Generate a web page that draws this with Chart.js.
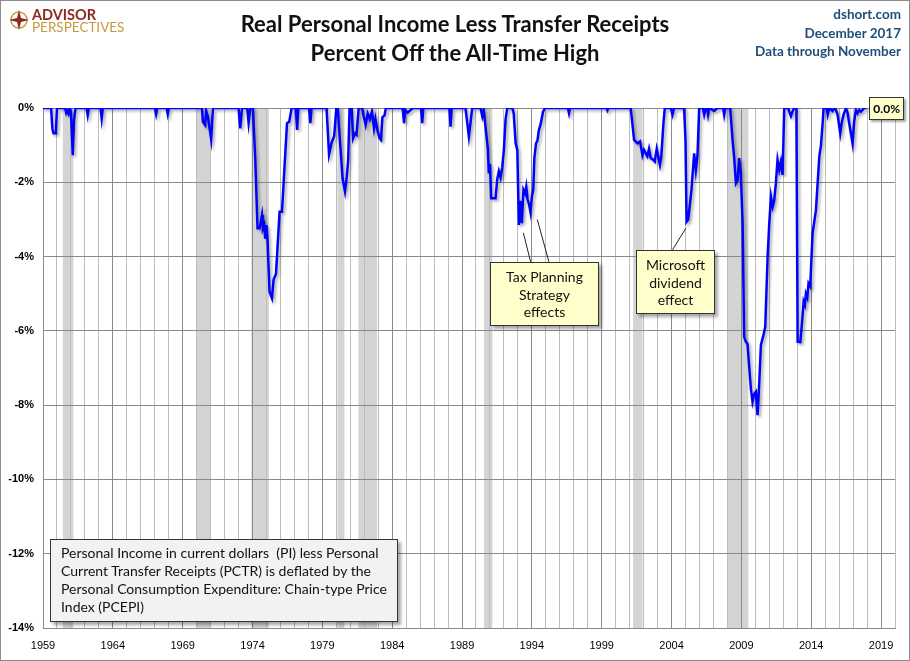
<!DOCTYPE html>
<html>
<head>
<meta charset="utf-8">
<script src="https://cdn.jsdelivr.net/npm/chart.js@4.4.0/dist/chart.umd.min.js"></script>
<style>
  body { margin: 0; background: #fff; }
  #wrap { position: relative; width: 910px; height: 661px; overflow: hidden; background: #fff; }
  #frame { position: absolute; left: 0; top: 0; width: 908px; height: 659px; border: 1px solid #8c8c8c; pointer-events: none; }
  canvas { position: absolute; left: 0; top: 0; }
  .title { position: absolute; left: 0; width: 910px; top: 9px; text-align: center; font: bold 22px Lato, sans-serif; line-height: 29px; color: #111; }
  .src { position: absolute; right: 9px; top: 5px; text-align: right; font: bold 13.5px Lato, sans-serif; line-height: 18.5px; color: #1f4e79; }
  .logo { position: absolute; left: 9px; top: 8px; }
  .logo .t1 { position: absolute; left: 23px; top: 0px; font: bold 14.5px Lato, sans-serif; color: #8b2a20; line-height: 14px; }
  .logo .t2 { position: absolute; left: 23px; top: 12px; font: 13.5px Lato, sans-serif; color: #c49a3c; line-height: 14px; white-space: nowrap; }
  .box { position: absolute; background: #ffffcc; border: 1px solid #333; box-shadow: 3px 3px 3px rgba(0,0,0,0.35); font: 14px Lato, sans-serif; color: #111; text-align: center; line-height: 17.5px; box-sizing: border-box; }
  .note { position: absolute; left: 50px; top: 539px; width: 348px; height: 83px; background: #f2f2f2; border: 1px solid #333; box-shadow: 3px 3px 3px rgba(0,0,0,0.35); box-sizing: border-box; font: 14px Lato, sans-serif; color: #111; line-height: 18px; padding: 4px 0 0 10px; white-space: nowrap; }
  .endlbl { position: absolute; background: #ffffcc; border: 1px solid #333; box-shadow: 2px 2px 2px rgba(0,0,0,0.35); font: bold 12px Lato, sans-serif; padding: 3px 3px; line-height: 15px; }
</style>
</head>
<body>
<div id="wrap">
  <canvas id="chart" width="910" height="661"></canvas>
  <div class="logo">
    <svg width="20" height="22" viewBox="0 0 20 22" style="position:absolute;left:0;top:1px">
      <circle cx="10" cy="11" r="8" fill="none" stroke="#c49a3c" stroke-width="1.5"/>
      <polygon points="10,1 12,9 20,11 12,13 10,21 8,13 0,11 8,9" fill="#8b2a20"/>
    </svg>
    <div class="t1">ADVISOR</div>
    <div class="t2">PERSPECTIVES</div>
  </div>
  <div class="title">Real Personal Income Less Transfer Receipts<br>Percent Off the All-Time High</div>
  <div class="src">dshort.com<br>December 2017<br>Data through November</div>
  <div class="box" style="left:490px;top:262px;width:109px;height:64px;padding-top:5px">Tax Planning<br>Strategy<br>effects</div>
  <div class="box" style="left:636px;top:250px;width:79px;height:64px;padding-top:5px">Microsoft<br>dividend<br>effect</div>
  <div class="note">Personal Income in current dollars&nbsp; (PI) less Personal<br>Current Transfer Receipts (PCTR) is deflated by the<br>Personal Consumption Expenditure: Chain-type Price<br>Index (PCEPI)</div>
  <div class="endlbl" id="endlbl"></div>
  <div id="frame"></div>
</div>
<script>
// monthly series (decimal year, % off all-time high)
var dates = [
  1959.00, 1959.58, 1959.67, 1959.75, 1959.92, 1960.00, 1960.58, 1960.67, 1960.75, 1960.83,
  1960.92, 1961.00, 1961.13, 1961.22, 1961.33, 1962.12, 1962.20, 1962.28, 1963.12, 1963.20,
  1963.28, 1967.02, 1967.10, 1967.18, 1967.85, 1967.93, 1968.01, 1970.38, 1970.45, 1970.61,
  1970.68, 1970.81, 1971.04, 1971.16, 1971.20, 1973.00, 1973.12, 1973.25, 1973.62, 1973.72,
  1973.84, 1974.03, 1974.20, 1974.36, 1974.51, 1974.68, 1974.75, 1974.84, 1974.91, 1974.99,
  1975.08, 1975.22, 1975.39, 1975.51, 1975.68, 1975.94, 1976.11, 1976.47, 1976.63, 1976.80,
  1977.10, 1977.19, 1977.28, 1978.05, 1978.14, 1978.23, 1979.30, 1979.48, 1979.65, 1979.85,
  1980.00, 1980.10, 1980.45, 1980.62, 1980.75, 1980.85, 1980.95, 1981.10, 1981.20, 1981.35,
  1981.45, 1981.60, 1981.85, 1981.95, 1982.10, 1982.25, 1982.40, 1982.55, 1982.70, 1982.80,
  1982.95, 1983.10, 1983.20, 1983.30, 1983.45, 1983.55, 1984.75, 1984.85, 1984.93, 1985.10,
  1985.30, 1985.50, 1986.07, 1986.15, 1986.23, 1988.10, 1988.18, 1988.26, 1989.25, 1989.49,
  1989.73, 1990.33, 1990.45, 1990.55, 1990.68, 1990.85, 1990.92, 1991.00, 1991.09, 1991.40,
  1991.52, 1991.64, 1991.76, 1991.88, 1992.00, 1992.12, 1992.24, 1992.60, 1992.70, 1992.84,
  1992.96, 1993.07, 1993.17, 1993.28, 1993.40, 1993.52, 1993.60, 1993.69, 1993.80, 1993.90,
  1994.00, 1994.10, 1994.18, 1994.30, 1994.40, 1994.50, 1994.65, 1994.80, 1994.95, 1996.58,
  1996.66, 1996.74, 1999.35, 1999.41, 1999.47, 2001.08, 2001.32, 2001.56, 2001.75, 2001.92,
  2002.03, 2002.27, 2002.39, 2002.51, 2002.70, 2002.80, 2002.94, 2003.03, 2003.17, 2003.27,
  2003.42, 2003.52, 2003.95, 2004.07, 2004.18, 2004.90, 2005.00, 2005.08, 2005.19, 2005.33,
  2005.43, 2005.62, 2005.74, 2005.86, 2005.98, 2006.25, 2006.34, 2006.45, 2006.55, 2006.62,
  2006.70, 2007.05, 2007.29, 2007.70, 2007.77, 2007.85, 2008.20, 2008.37, 2008.48, 2008.61,
  2008.73, 2008.84, 2008.96, 2009.09, 2009.20, 2009.32, 2009.44, 2009.56, 2009.68, 2009.80,
  2009.92, 2010.04, 2010.16, 2010.28, 2010.40, 2010.56, 2010.71, 2010.88, 2011.00, 2011.12,
  2011.24, 2011.35, 2011.47, 2011.59, 2011.71, 2011.83, 2011.95, 2012.07, 2012.35, 2012.43,
  2012.55, 2012.66, 2012.78, 2012.94, 2013.03, 2013.22, 2013.34, 2013.46, 2013.55, 2013.62,
  2013.72, 2013.81, 2013.93, 2014.10, 2014.34, 2014.58, 2014.70, 2014.82, 2014.89, 2015.10,
  2015.18, 2015.29, 2015.53, 2015.65, 2015.77, 2015.89, 2016.08, 2016.18, 2016.32, 2016.49,
  2016.61, 2016.72, 2016.84, 2016.96, 2017.08, 2017.20, 2017.32, 2017.44, 2017.56, 2017.68,
  2017.80, 2017.95
];
var pctOff = [
  0, 0, -0.55, -0.68, -0.68, 0, 0, -0.14, -0.08, -0.15,
  0, -0.10, -1.27, -0.32, 0, 0, -0.19, 0, 0, -0.28,
  0, 0, -0.16, 0, 0, -0.16, 0, 0, -0.37, -0.46,
  -0.07, -0.25, -0.84, -0.05, 0, 0, -0.55, 0, 0, -0.40,
  0, 0, -1.40, -3.24, -3.24, -2.88, -3.24, -3.15, -3.52, -3.15,
  -3.60, -4.95, -5.12, -4.62, -4.47, -2.79, -2.79, -0.41, -0.37, 0,
  0, -0.59, 0, 0, -0.41, 0, 0, -1.25, -0.95, -0.75,
  0, 0, -1.90, -2.25, -1.85, -1.40, 0, 0, -0.82, -0.68,
  -0.72, 0, 0, -0.20, -0.45, -0.15, -0.30, -0.10, -0.55, -0.30,
  -0.60, -0.82, -0.86, -0.25, -0.20, 0, 0, -0.41, -0.05, -0.12,
  -0.06, 0, 0, -0.41, 0, 0, -0.50, 0, 0, -0.77,
  0, 0, -0.22, -0.05, -0.50, -1.10, -1.76, -1.50, -2.43, -2.43,
  -1.92, -1.70, -1.87, -1.60, -1.12, -0.30, 0, 0, -0.14, -0.95,
  -1.13, -3.15, -2.50, -3.10, -2.20, -2.30, -2.12, -2.45, -2.60, -2.80,
  -2.40, -2.20, -1.35, -0.95, -0.88, -0.60, -0.40, -0.10, 0, 0,
  -0.14, 0, 0, -0.06, 0, 0, -0.86, -0.95, -0.90, -1.27,
  -1.13, -1.30, -1.10, -1.35, -1.40, -1.44, -1.10, -1.27, -1.53, -1.30,
  -0.41, 0, 0, -0.18, 0, 0, -0.86, -3.06, -3.00, -2.55,
  -2.20, -1.22, -1.67, -1.27, 0, 0, -0.18, 0, 0, -0.18,
  0, -0.08, 0, 0, -0.18, 0, 0, -0.86, -1.31, -2.03,
  -1.95, -1.35, -1.75, -3.10, -6.16, -6.29, -6.35, -6.96, -7.55, -7.91,
  -7.70, -7.64, -8.27, -7.41, -6.38, -6.15, -5.89, -4.00, -3.10, -2.39,
  -2.66, -2.50, -2.03, -1.40, -1.67, -1.45, -1.80, 0, 0, -0.10,
  -0.22, -0.10, 0, 0, -6.29, -6.30, -5.80, -5.21, -5.30, -5.00,
  -5.10, -4.72, -4.80, -3.37, -2.75, -1.31, -1.00, -0.41, 0, 0,
  -0.18, 0, -0.08, 0, -0.05, -0.18, -0.68, -0.41, -0.18, 0,
  -0.14, -0.41, -0.68, -0.95, -0.36, -0.05, -0.14, -0.05, -0.10, -0.05,
  0, 0
];
// recessions (start, end as decimal years)
var recStart = [1960.42, 1970.00, 1973.92, 1980.08, 1981.58, 1990.58, 2001.25, 2008.00];
var recEnd   = [1961.17, 1971.00, 1975.17, 1980.58, 1982.92, 1991.17, 2001.92, 2009.50];
var yTicks = [0, -2, -4, -6, -8, -10, -12, -14];

// callout leader lines in data units [x1, y1, x2, y2]
var leaders = [
  [1993.39, -3.36, 1993.91, -4.14],
  [1994.39, -3.00, 1995.22, -4.14],
  [2005.02, -3.24, 2004.07, -3.82]
];

var points = dates.map(function (d, i) { return { x: d, y: pctOff[i] }; });

var bandsPlugin = {
  id: 'bands',
  beforeDraw: function (chart) {
    var c = chart.ctx, a = chart.chartArea, xs = chart.scales.x;
    c.save();
    c.fillStyle = '#d4d4d4';
    for (var i = 0; i < recStart.length; i++) {
      var x1 = xs.getPixelForValue(recStart[i]), x2 = xs.getPixelForValue(recEnd[i]);
      c.fillRect(x1, a.top, x2 - x1, a.bottom - a.top);
    }
    c.restore();
  },
  beforeDatasetsDraw: function (chart) {
    var c = chart.ctx;
    c.save();
    c.shadowColor = 'rgba(0,0,0,0.35)';
    c.shadowOffsetX = 2;
    c.shadowOffsetY = 2;
    c.shadowBlur = 3;
  },
  afterDatasetsDraw: function (chart) {
    chart.ctx.restore();
  },
  afterDraw: function (chart) {
    var c = chart.ctx, xs = chart.scales.x, ys = chart.scales.y;
    c.save();
    c.strokeStyle = '#222';
    c.lineWidth = 1;
    leaders.forEach(function (l) {
      c.beginPath();
      c.moveTo(xs.getPixelForValue(l[0]), ys.getPixelForValue(l[1]));
      c.lineTo(xs.getPixelForValue(l[2]), ys.getPixelForValue(l[3]));
      c.stroke();
    });
    c.restore();
  }
};

var chart = new Chart(document.getElementById('chart'), {
  type: 'line',
  data: {
    datasets: [{
      data: points,
      borderColor: '#0000ff',
      borderWidth: 2.5,
      pointRadius: 0,
      tension: 0,
      fill: false
    }]
  },
  options: {
    responsive: false,
    animation: false,
    layout: { padding: { left: 0, right: 15, top: 108, bottom: 0 } },
    plugins: { legend: { display: false }, tooltip: { enabled: false } },
    scales: {
      x: {
        type: 'linear',
        min: 1959,
        max: 2020,
        afterFit: function (s) { s.height = 33; },
        afterBuildTicks: function (s) {
          var t = [];
          for (var y = 1959; y <= 2020; y++) t.push({ value: y });
          s.ticks = t;
        },
        ticks: {
          autoSkip: false,
          maxRotation: 0,
          padding: 11,
          color: '#000',
          font: { family: 'Liberation Sans', size: 11 },
          callback: function (v) { return (v - 1959) % 5 === 0 && v < 2020 ? String(v) : ''; }
        },
        grid: {
          drawTicks: false,
          color: function (ctx) { return ctx.tick && (ctx.tick.value - 1959) % 5 === 0 ? '#8a8a8a' : '#bdbdbd'; },
          lineWidth: 1
        },
        border: { color: '#8a8a8a' }
      },
      y: {
        min: -14,
        max: 0,
        afterFit: function (s) { s.width = 43; },
        afterBuildTicks: function (s) { s.ticks = yTicks.map(function (v) { return { value: v }; }); },
        ticks: {
          padding: 9,
          color: '#000',
          font: { family: 'Liberation Sans', size: 11, weight: 'bold' },
          callback: function (v) { return v + '%'; }
        },
        grid: { drawTicks: false, color: '#8a8a8a', lineWidth: 1 },
        border: { color: '#8a8a8a' }
      }
    }
  },
  plugins: [bandsPlugin]
});

// last value label
var lastX = dates[dates.length - 1], lastY = pctOff[pctOff.length - 1];
var lbl = document.getElementById('endlbl');
lbl.textContent = lastY.toFixed(1) + '%';
lbl.style.left = (chart.scales.x.getPixelForValue(lastX) + 3) + 'px';
lbl.style.top = (chart.scales.y.getPixelForValue(lastY) - 11) + 'px';
</script>
</body>
</html>
